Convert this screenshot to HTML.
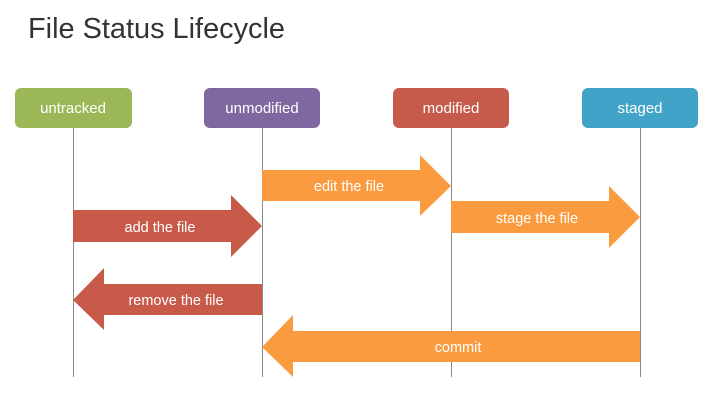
<!DOCTYPE html>
<html><head><style>
body{margin:0;width:710px;height:401px;background:#fff;overflow:hidden;font-family:"Liberation Sans",sans-serif}
</style></head><body>
<svg width="710" height="401" xmlns="http://www.w3.org/2000/svg" font-family="Liberation Sans, sans-serif">
<text x="28" y="38" font-size="29" fill="#333" textLength="257" lengthAdjust="spacingAndGlyphs">File Status Lifecycle</text>
<g stroke="#888" stroke-width="1">
<line x1="73.5" y1="128" x2="73.5" y2="377"/>
<line x1="262.5" y1="128" x2="262.5" y2="377"/>
<line x1="451.5" y1="128" x2="451.5" y2="377"/>
<line x1="640.5" y1="128" x2="640.5" y2="377"/>
</g>
<rect x="15" y="88" width="117" height="40" rx="6" fill="#9bb757"/>
<rect x="204" y="88" width="116" height="40" rx="6" fill="#7f67a0"/>
<rect x="393" y="88" width="116" height="40" rx="6" fill="#c65a4b"/>
<rect x="582" y="88" width="116" height="40" rx="6" fill="#42a3c8"/>
<g fill="#fff" font-size="15" text-anchor="middle">
<text x="73" y="113">untracked</text>
<text x="262" y="113">unmodified</text>
<text x="451" y="113">modified</text>
<text x="640" y="113">staged</text>
</g>
<polygon points="262,170 420,170 420,155 451,186 420,216 420,201 262,201" fill="#fb9b3f"/>
<polygon points="451,201 609,201 609,186 640,217 609,248 609,233 451,233" fill="#fb9b3f"/>
<polygon points="73,210 231,210 231,195 262,226 231,257 231,242 73,242" fill="#c85a4a"/>
<polygon points="262,284 104,284 104,268 73,300 104,330 104,315 262,315" fill="#c85a4a"/>
<polygon points="640,331 293,331 293,315 262,347 293,377 293,362 640,362" fill="#fb9b3f"/>
<g fill="#fff" font-size="14.5" text-anchor="middle">
<text x="349" y="191">edit the file</text>
<text x="537" y="223">stage the file</text>
<text x="160" y="232">add the file</text>
<text x="176" y="305">remove the file</text>
<text x="458" y="352">commit</text>
</g>
</svg>
</body></html>
